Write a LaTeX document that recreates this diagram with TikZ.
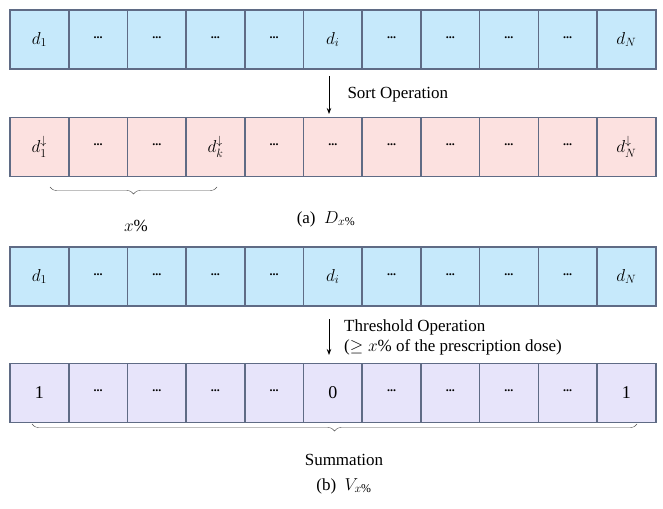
\documentclass[tikz,border=0pt]{standalone}
\usepackage{fontspec}
\setmainfont{Liberation Serif}
\usepackage{amssymb}
\usetikzlibrary{arrows.meta,positioning,decorations.pathreplacing}

\definecolor{cellblue}{HTML}{C6E9FB}
\definecolor{cellpink}{HTML}{FCE1E0}
\definecolor{celllila}{HTML}{E7E4FA}
\definecolor{cellline}{HTML}{5F6B85}

\tikzset{
    cell/.style={draw=cellline, line width=1.6pt, minimum width=58.7pt, minimum height=59pt, inner sep=0pt},
    val/.style={font=\fontsize{18}{20}\selectfont},
    dots/.style={font=\fontsize{12}{12}\selectfont\bfseries, yshift=2pt},
    lbl/.style={font=\fontsize{17}{20}\selectfont},
    brc/.style={decorate, decoration={brace, mirror, amplitude=7pt}, draw=black!70, thin},
}

\begin{document}
\begin{tikzpicture}[x=1pt,y=-1pt]
    \useasboundingbox (0,0) rectangle (663,508);

    %Rows of cells
    \foreach \r/\yy/\col in {a/39.5/cellblue, b/147/cellpink, c/276.5/cellblue, d/393/celllila}
        \foreach \i in {1,...,11}
            \node[cell, fill=\col] (\r\i) at ({10+58.7*(\i-0.5)},\yy) {};

    %Cell texts
    \foreach \r in {a,c}{
        \node[val] at (\r1) {$d_1$};
        \node[val] at (\r6) {$d_i$};
        \node[val] at (\r11) {$d_N$};
        \foreach \i in {2,3,4,5,7,8,9,10} \node[dots] at (\r\i) {...};
    }
    \node[val] at (b1) {$d_1^{\downarrow}$};
    \node[val] at (b4) {$d_k^{\downarrow}$};
    \node[val] at (b11) {$d_N^{\downarrow}$};
    \foreach \i in {2,3,5,6,7,8,9,10} \node[dots] at (b\i) {...};
    \node[val] at (d1) {1};
    \node[val] at (d6) {0};
    \node[val] at (d11) {1};
    \foreach \i in {2,3,4,5,7,8,9,10} \node[dots] at (d\i) {...};

    %Operations
    \coordinate (s1) at (329,76);
    \coordinate (s2) at (329,114);
    \draw[thick, -{Stealth[length=6pt]}] (s1) -- (s2);
    \node[lbl, anchor=west] (sort) at (344,95) {Sort Operation};

    \coordinate (t1) at (329,319);
    \coordinate (t2) at (329,355);
    \draw[thick, -{Stealth[length=6pt]}] (t1) -- (t2);
    \node[lbl, anchor=west, align=left, inner sep=1pt] (thr) at (343,337) {Threshold Operation\\($\geq x$\% of the prescription dose)};

    %Braces
    \coordinate (bl) at (50,187);
    \coordinate (br) at (217,187);
    \draw[brc] (bl) -- (br);
    \node[lbl] (xp) at (136,226) {$x$\%};
    \node[lbl] (capa) at (326,219) {(a)\enspace$D_{x\%}$};

    \coordinate (dl) at (32,424);
    \coordinate (dr) at (637,424);
    \draw[brc] (dl) -- (dr);
    \node[lbl] (sum) at (344,460) {Summation};
    \node[lbl] (capb) at (344,486) {(b)\enspace$V_{x\%}$};
\end{tikzpicture}
\end{document}
